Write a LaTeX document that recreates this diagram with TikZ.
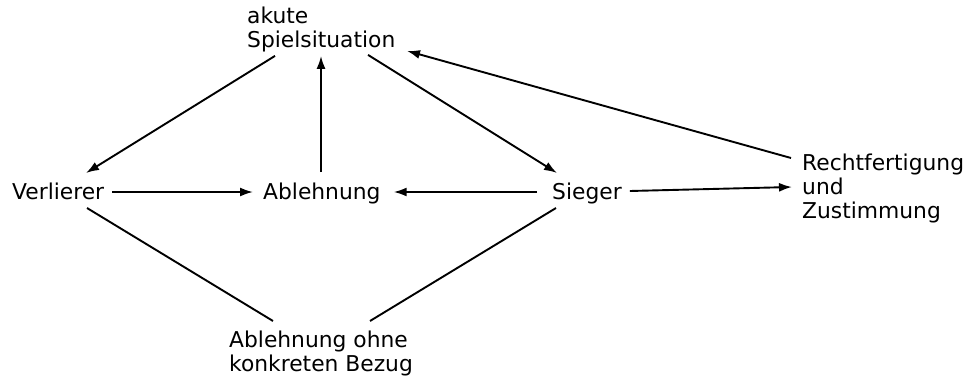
\documentclass[tikz,border=0pt]{standalone}
\usepackage{fontspec}
\setmainfont{DejaVu Sans}
\usetikzlibrary{arrows.meta}

\tikzset{
  lbl/.style={inner sep=0pt, align=left, font=\fontsize{21.8pt}{24pt}\selectfont},
  link/.style={line width=1.9pt},
  arr/.style={link, -{Latex[length=13pt,width=9pt]}}
}

\begin{document}
\begin{tikzpicture}[x=1pt, y=-1pt]
  % canvas
  \fill[white] (0,0) rectangle (967,378);
  \useasboundingbox (0,0) rectangle (967,378);

  % labels
  \node[lbl, anchor=north west] (spiel) at (247,6.4) {akute\\Spielsituation};
  \node[lbl, anchor=base west]  (verl)  at (12,199)  {Verlierer};
  \node[lbl, anchor=base west]  (abl)   at (263,199) {Ablehnung};
  \node[lbl, anchor=base west]  (sieg)  at (552,199) {Sieger};
  \node[lbl, anchor=north west] (recht) at (802,153.4) {Rechtfertigung\\und\\Zustimmung};
  \node[lbl, anchor=north west] (bez)   at (229,330.4) {Ablehnung ohne\\konkreten Bezug};

  % arrows
  \draw[arr] ([shift={(28,4)}]spiel.south west) -- ([shift={(74,-26)}]verl.base west);
  \draw[arr] ([shift={(58,-27)}]abl.base west) -- ([shift={(74,4)}]spiel.south west);
  \draw[arr] ([shift={(121,3)}]spiel.south west) -- ([shift={(5,-26)}]sieg.base west);
  \draw[arr] ([shift={(-11,4.6)}]recht.north west) -- ([shift={(160,-1)}]spiel.south west);
  \draw[arr] ([shift={(8,-7)}]verl.base east) -- ([shift={(-10,-7)}]abl.base west);
  \draw[arr] ([shift={(-15,-7)}]sieg.base west) -- ([shift={(13,-7)}]abl.base east);
  \draw[arr] ([shift={(8,-8)}]sieg.base east) -- ([shift={(-10,33.6)}]recht.north west);

  % plain links
  \draw[link] ([shift={(75,9)}]verl.base west) -- ([shift={(44,-9.4)}]bez.north west);
  \draw[link] ([shift={(4,9)}]sieg.base west) -- ([shift={(141,-9.4)}]bez.north west);
\end{tikzpicture}
\end{document}
